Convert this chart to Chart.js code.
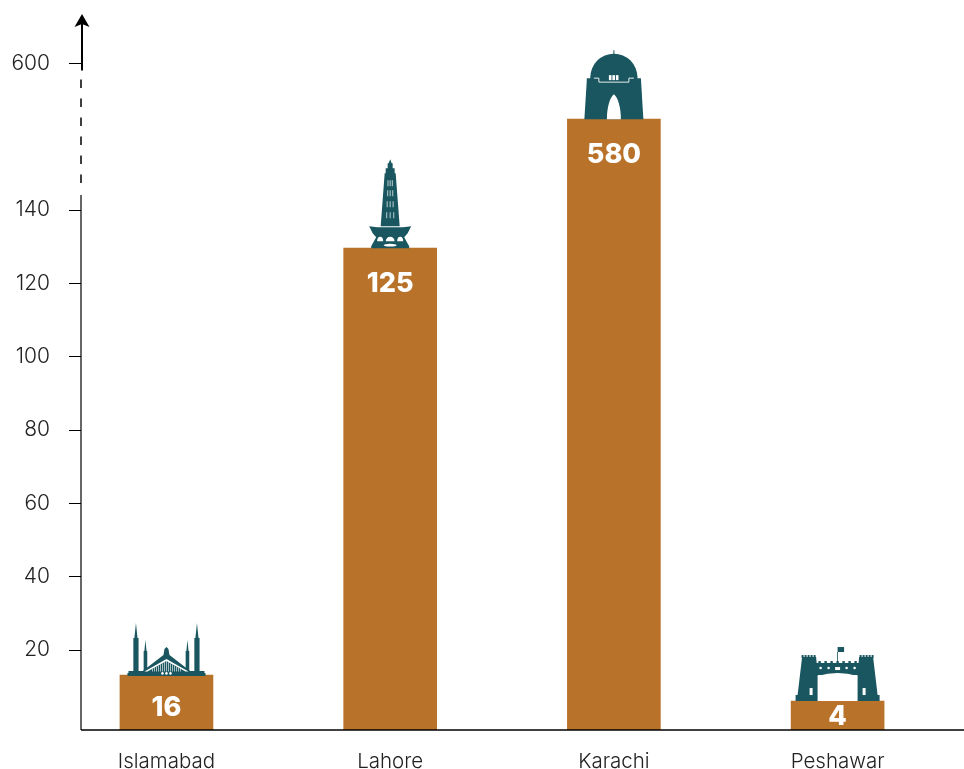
<!DOCTYPE html>
<html>
<head>
<meta charset="utf-8">
<style>
  html, body { margin: 0; background: #fff; }
  canvas { display: block; }
</style>
<script src="https://cdn.jsdelivr.net/npm/chart.js@4"></script>
</head>
<body>
<canvas id="chart" width="964" height="769"></canvas>
<script>
const cities = ['Islamabad', 'Lahore', 'Karachi', 'Peshawar'];
// numbers printed on the bars
const barLabels = ['16', '125', '580', '4'];
// bar tops read against the axis ticks; the source does not draw them to scale
const barHeights = [13.2, 129.6, 164.8, 6.1];
// the axis is broken above 140, the "600" tick sits where 180 would be
const tickValues = [20, 40, 60, 80, 100, 120, 140, 180];
const tickLabels = ['20', '40', '60', '80', '100', '120', '140', '600'];

const barColor = '#b9722a';
const iconColor = '#19565f';
const yMin = -1.8;
const yMax = 193.2;
const fontFamily = 'Inter, "Open Sans", sans-serif';

function poly(ctx, pts) {
  ctx.beginPath();
  pts.forEach((p, i) => i ? ctx.lineTo(p[0], p[1]) : ctx.moveTo(p[0], p[1]));
  ctx.closePath();
  ctx.fill();
}

function minaret(ctx, x, tip, shoulder, w) {
  poly(ctx, [[x, tip], [x + w * 0.6, shoulder], [x + w, shoulder], [x + w, -2], [x - w, -2], [x - w, shoulder], [x - w * 0.6, shoulder]]);
}

function drawMosque(ctx) {
  ctx.fillStyle = iconColor;
  poly(ctx, [[-39, -2], [39, -2], [39, 1], [-39, 1]]);
  poly(ctx, [[-38, -4], [38, -4], [38, -1], [-38, -1]]);
  [-1, 1].forEach(s => {
    minaret(ctx, s * 30.5, -52, -37, 2.6);
    minaret(ctx, s * 21, -35, -24, 1.8);
  });
  poly(ctx, [[-25, -3], [-3, -20], [-2, -26], [0, -28], [2, -26], [3, -20], [25, -3]]);
  ctx.fillStyle = '#ffffff';
  poly(ctx, [[-22, -3.5], [0, -16], [22, -3.5], [19, -3.5], [0, -14], [-19, -3.5]]);
  ctx.globalAlpha = 0.7;
  for (let i = -7; i <= 7; i++) {
    const x = i * 2;
    poly(ctx, [[x - 0.45, -3.5], [x + 0.45, -3.5], [x + 0.45, -14 + Math.abs(x) * 0.55], [x - 0.45, -14 + Math.abs(x) * 0.55]]);
  }
  ctx.globalAlpha = 1;
  [-4, 0, 4].forEach(x => {
    ctx.beginPath();
    ctx.arc(x, -1.6, 1.3, 0, Math.PI * 2);
    ctx.fill();
  });
}

function drawTower(ctx) {
  ctx.fillStyle = iconColor;
  poly(ctx, [[0, -89], [1.5, -85], [2.5, -85], [2.5, -80], [4.5, -80], [4.5, -75], [5.5, -75], [9.5, -22], [-9.5, -22], [-5.5, -75], [-4.5, -75], [-4.5, -80], [-2.5, -80], [-2.5, -85], [-1.5, -85]]);
  poly(ctx, [[-21, -22], [-13, -21], [13, -21], [21, -22], [17.5, -15], [14, -11], [19, -2], [19, 0], [-19, 0], [-19, -2], [-14, -11], [-17.5, -15]]);
  ctx.fillStyle = '#ffffff';
  ctx.globalAlpha = 0.6;
  [[-68, 4], [-58, 4.6], [-47, 5.4], [-36, 6.4]].forEach(row => {
    [-0.55, 0, 0.55].forEach(k => {
      const x = k * row[1];
      poly(ctx, [[x - 0.6, row[0]], [x + 0.6, row[0]], [x + 0.6, row[0] + 6], [x - 0.6, row[0] + 6]]);
    });
  });
  ctx.globalAlpha = 1;
  [-10, 10, 0].forEach(x => {
    ctx.beginPath();
    ctx.ellipse(x, -7, x ? 3 : 4.4, 4.5, 0, Math.PI, 0);
    ctx.fill();
  });
  ctx.beginPath();
  ctx.ellipse(0, -3, 6.5, 1.4, 0, 0, Math.PI * 2);
  ctx.fill();
}

function drawMausoleum(ctx) {
  ctx.fillStyle = iconColor;
  poly(ctx, [[-0.5, -69], [0.5, -69], [0.5, -64], [-0.5, -64]]);
  ctx.beginPath();
  ctx.arc(0, -42, 23.5, Math.PI, 0);
  ctx.fill();
  poly(ctx, [[-27, -41], [27, -41], [29.5, 0], [-29.5, 0]]);
  poly(ctx, [[-23.5, -43], [23.5, -43], [23.5, -39], [-23.5, -39]]);
  ctx.fillStyle = '#ffffff';
  ctx.beginPath();
  ctx.moveTo(-7, 0);
  ctx.bezierCurveTo(-7, -12, -4, -22, 0, -25);
  ctx.bezierCurveTo(4, -22, 7, -12, 7, 0);
  ctx.closePath();
  ctx.fill();
  [-5, -1.5, 2].forEach(x => poly(ctx, [[x, -44], [x + 2.6, -44], [x + 2.6, -39], [x, -39]]));
  ctx.strokeStyle = '#ffffff';
  ctx.lineWidth = 0.9;
  ctx.beginPath();
  ctx.moveTo(-20, -41);
  ctx.lineTo(-15, -41);
  ctx.lineTo(-15, -37);
  ctx.lineTo(15, -37);
  ctx.lineTo(15, -41);
  ctx.lineTo(20, -41);
  ctx.stroke();
}

function drawGate(ctx) {
  ctx.fillStyle = iconColor;
  [-1, 1].forEach(s => {
    poly(ctx, [[s * 35.5, -44], [s * 21.5, -44], [s * 18, -6], [s * 17, 0], [s * 42, 0], [s * 42, -6], [s * 40, -6]]);
    for (let i = 0; i < 5; i++) {
      const x = s * (23 + i * 3);
      poly(ctx, [[x - 1, -46], [x + 1, -46], [x + 1, -43], [x - 1, -43]]);
    }
  });
  poly(ctx, [[-22, -38], [22, -38], [22, -26], [-22, -26]]);
  for (let i = -3; i <= 3; i++) {
    const x = i * 6;
    poly(ctx, [[x - 1.2, -40], [x + 1.2, -40], [x + 1.2, -37], [x - 1.2, -37]]);
  }
  poly(ctx, [[-0.4, -49], [0.4, -49], [0.4, -38], [-0.4, -38]]);
  poly(ctx, [[0, -54], [6.5, -54], [6.5, -49], [0, -49]]);
  ctx.fillStyle = '#ffffff';
  ctx.beginPath();
  ctx.moveTo(-20, 0);
  ctx.lineTo(-20, -25);
  ctx.quadraticCurveTo(0, -31, 20, -25);
  ctx.lineTo(20, 0);
  ctx.closePath();
  ctx.fill();
  poly(ctx, [[-28, -13], [-25, -13], [-25, -6], [-28, -6]]);
  poly(ctx, [[25, -13], [28, -13], [28, -6], [25, -6]]);
  poly(ctx, [[-2.5, -34], [2.5, -34], [2.5, -31], [-2.5, -31]]);
  [-17, -9, 9, 17].forEach(x => {
    ctx.beginPath();
    ctx.arc(x, -33, 1.3, 0, Math.PI * 2);
    ctx.fill();
  });
}

const icons = [drawMosque, drawTower, drawMausoleum, drawGate];

// short bars centre the number, taller ones hang it under the top edge
function labelOffset(h) {
  if (h < 40) return h / 2 + 1;
  return h < 100 ? 33 : 35.5;
}

const barExtras = {
  id: 'barExtras',
  afterDatasetsDraw(chart) {
    const ctx = chart.ctx;
    chart.getDatasetMeta(0).data.forEach((bar, i) => {
      ctx.save();
      ctx.translate(bar.x, bar.y);
      icons[i](ctx);
      ctx.restore();

      ctx.save();
      ctx.fillStyle = '#ffffff';
      ctx.font = '800 27px ' + fontFamily;
      ctx.textAlign = 'center';
      ctx.textBaseline = 'middle';
      ctx.fillText(barLabels[i], bar.x, bar.y + labelOffset(bar.base - bar.y));
      ctx.restore();
    });
  }
};

const brokenAxis = {
  id: 'brokenAxis',
  afterDraw(chart) {
    const ctx = chart.ctx;
    const y = chart.scales.y;
    const x = y.right;
    const bottom = chart.chartArea.bottom;
    const top = chart.chartArea.top;
    const y600 = y.getPixelForValue(180);
    const y140 = y.getPixelForValue(140);

    ctx.save();
    ctx.strokeStyle = '#000000';
    ctx.fillStyle = '#000000';

    // lower part
    ctx.lineWidth = 1.2;
    ctx.beginPath();
    ctx.moveTo(x, y140 - 15);
    ctx.lineTo(x, bottom);
    ctx.stroke();

    // break
    ctx.lineWidth = 1.5;
    ctx.setLineDash([8.5, 10.5]);
    ctx.beginPath();
    ctx.moveTo(x, y600 + 16);
    ctx.lineTo(x, y140 - 26);
    ctx.stroke();
    ctx.setLineDash([]);

    // upper part with the arrow
    ctx.lineWidth = 2;
    ctx.beginPath();
    ctx.moveTo(x + 1, y600 + 7);
    ctx.lineTo(x + 1, top + 8);
    ctx.stroke();
    ctx.beginPath();
    ctx.moveTo(x + 1, top - 1);
    ctx.lineTo(x + 8.5, top + 12);
    ctx.lineTo(x + 1, top + 9);
    ctx.lineTo(x - 6.5, top + 12);
    ctx.closePath();
    ctx.fill();

    // baseline
    ctx.lineWidth = 1.5;
    ctx.beginPath();
    ctx.moveTo(x, bottom);
    ctx.lineTo(chart.chartArea.right, bottom);
    ctx.stroke();
    ctx.restore();
  }
};

new Chart(document.getElementById('chart'), {
  type: 'bar',
  data: {
    datasets: [{
      data: barHeights.map((h, i) => ({ x: i, y: h })),
      backgroundColor: barColor,
      barThickness: 93,
      base: yMin
    }]
  },
  options: {
    responsive: false,
    animation: false,
    layout: { padding: { top: 15 } },
    plugins: { legend: { display: false }, tooltip: { enabled: false } },
    scales: {
      x: {
        type: 'linear',
        offset: false,
        min: -0.382,
        max: 3.565,
        afterBuildTicks: s => { s.ticks = cities.map((c, i) => ({ value: i })); },
        afterFit: s => { s.height = 39; s.paddingLeft = 0; s.paddingRight = 0; },
        border: { display: false },
        grid: { display: false },
        ticks: {
          autoSkip: false,
          maxRotation: 0,
          padding: 12,
          color: '#222222',
          font: { family: fontFamily, size: 20.5, weight: 300 },
          callback: v => cities[v]
        }
      },
      y: {
        min: yMin,
        max: yMax,
        afterBuildTicks: s => { s.ticks = tickValues.map(v => ({ value: v })); },
        afterFit: s => { s.width = 81; s.paddingTop = 0; s.paddingBottom = 0; },
        border: { display: false },
        grid: {
          drawOnChartArea: false,
          drawTicks: true,
          tickLength: 12,
          color: '#000000',
          lineWidth: 1
        },
        ticks: {
          autoSkip: false,
          padding: 19,
          color: '#222222',
          font: { family: fontFamily, size: 21, weight: 300 },
          callback: v => tickLabels[tickValues.indexOf(v)]
        }
      }
    }
  },
  plugins: [barExtras, brokenAxis]
});
</script>
</body>
</html>
